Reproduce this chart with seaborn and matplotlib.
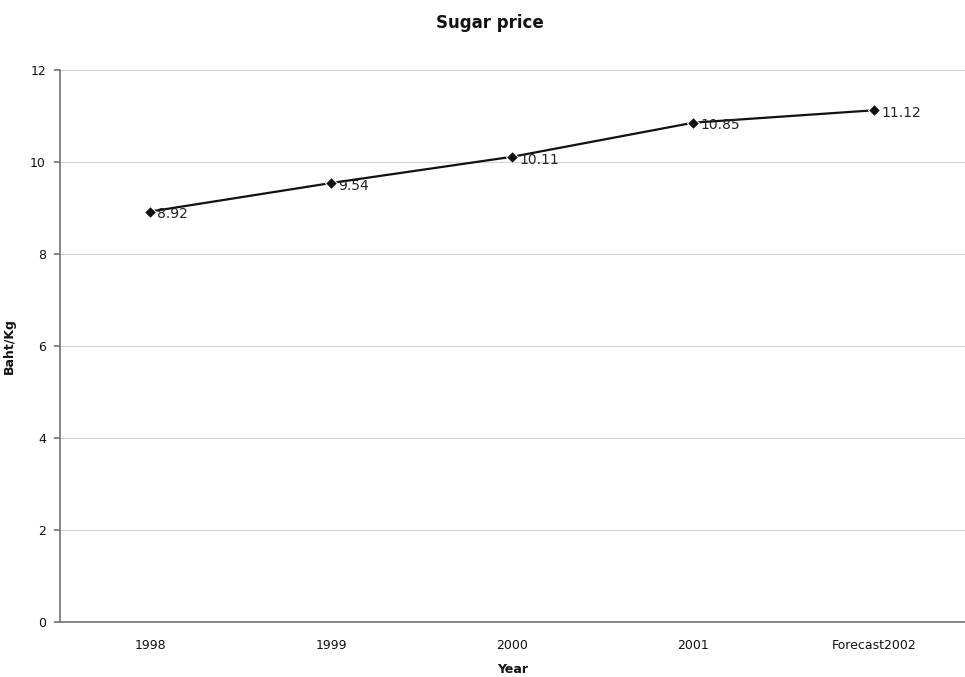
import matplotlib
matplotlib.use("Agg")
import matplotlib.pyplot as plt
import seaborn as sns
import pandas as pd

# Sugar price series (Baht per kilogram)
years = ["1998", "1999", "2000", "2001", "Forecast2002"]
prices = [8.92, 9.54, 10.11, 10.85, 11.12]
y_ticks = [0, 2, 4, 6, 8, 10, 12]

df = pd.DataFrame({"Year": years, "Price": prices})

sns.set_theme(style="white")
plt.rcParams["font.family"] = ["DejaVu Sans"]
plt.rcParams["text.color"] = "#111111"
plt.rcParams["axes.labelcolor"] = "#111111"
plt.rcParams["xtick.color"] = "#111111"
plt.rcParams["ytick.color"] = "#111111"

fig = plt.figure(figsize=(9.65, 6.77), dpi=100)
ax = fig.add_axes([0.062, 0.081, 0.938, 0.816])

sns.lineplot(data=df, x="Year", y="Price", ax=ax, color="#111111",
             marker="D", markersize=6, linewidth=1.6, sort=False)

for i, (x, v) in enumerate(zip(years, prices)):
    ax.annotate(f"{v:.2f}", (i, v), xytext=(5, -2), textcoords="offset points",
                fontsize=10, color="#222222", va="center", ha="left")

ax.set_xlim(-0.5, len(years) - 0.5)
ax.set_ylim(0, 12)
ax.set_yticks(y_ticks)
ax.yaxis.grid(True, color="#d4d4d4", linewidth=0.9)
ax.set_axisbelow(True)

for side in ["top", "right"]:
    ax.spines[side].set_visible(False)
ax.spines["left"].set_color("#777777")
ax.spines["bottom"].set_color("#777777")
ax.tick_params(axis="y", length=4, color="#777777", labelsize=9, left=True, pad=6)
ax.tick_params(axis="x", length=0, labelsize=9, pad=12)

ax.set_xlabel("Year", fontsize=9, fontweight="bold", labelpad=8)
ax.set_ylabel("Baht/Kg", fontsize=9, fontweight="bold", labelpad=10)
fig.suptitle("Sugar price", fontsize=12, fontweight="bold", x=0.508, y=0.98)

fig.savefig("out.png", dpi=100)
